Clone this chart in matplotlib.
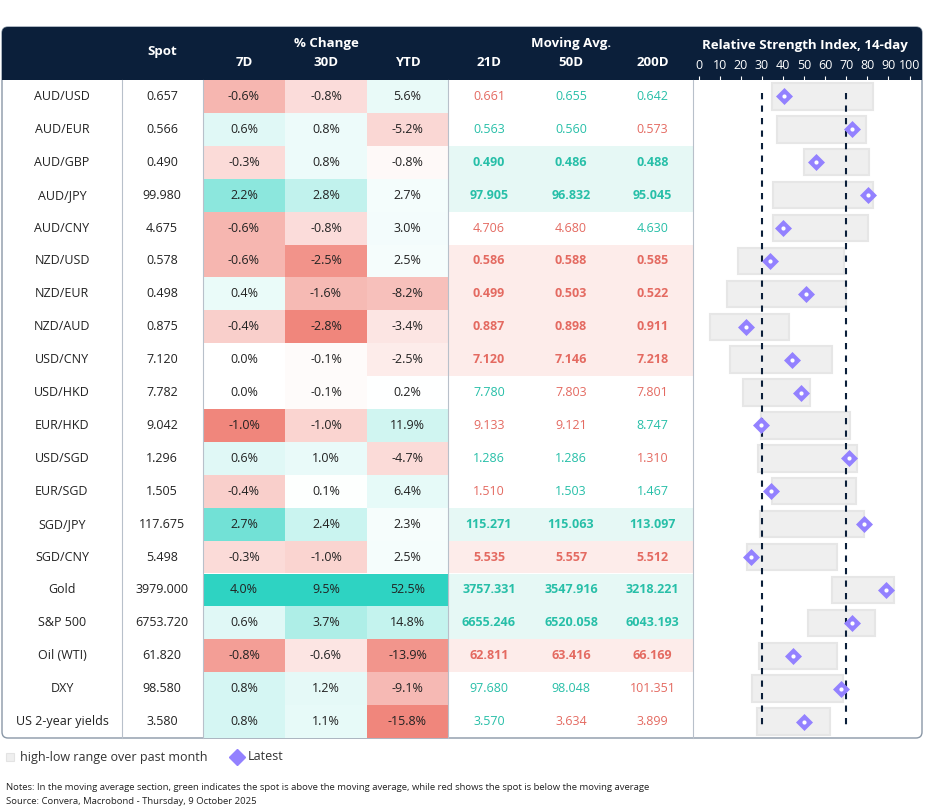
import matplotlib
matplotlib.use("Agg")
import matplotlib.pyplot as plt
from matplotlib.patches import Rectangle, FancyBboxPatch
import numpy as np

plt.rcParams['font.family'] = ['Open Sans', 'DejaVu Sans']

labels = ["AUD/USD","AUD/EUR","AUD/GBP","AUD/JPY","AUD/CNY","NZD/USD","NZD/EUR","NZD/AUD",
          "USD/CNY","USD/HKD","EUR/HKD","USD/SGD","EUR/SGD","SGD/JPY","SGD/CNY","Gold",
          "S&P 500","Oil (WTI)","DXY","US 2-year yields"]
spot = [0.657,0.566,0.490,99.980,4.675,0.578,0.498,0.875,7.120,7.782,9.042,1.296,1.505,117.675,
        5.498,3979.000,6753.720,61.820,98.580,3.580]
chg7d = [-0.6,0.6,-0.3,2.2,-0.6,-0.6,0.4,-0.4,0.0,0.0,-1.0,0.6,-0.4,2.7,-0.3,4.0,0.6,-0.8,0.8,0.8]
chg30d = [-0.8,0.8,0.8,2.8,-0.8,-2.5,-1.6,-2.8,-0.1,-0.1,-1.0,1.0,0.1,2.4,-1.0,9.5,3.7,-0.6,1.2,1.1]
chgytd = [5.6,-5.2,-0.8,2.7,3.0,2.5,-8.2,-3.4,-2.5,0.2,11.9,-4.7,6.4,2.3,2.5,52.5,14.8,-13.9,-9.1,-15.8]
ma21 = [0.661,0.563,0.490,97.905,4.706,0.586,0.499,0.887,7.120,7.780,9.133,1.286,1.510,115.271,
        5.535,3757.331,6655.246,62.811,97.680,3.570]
ma50 = [0.655,0.560,0.486,96.832,4.680,0.588,0.503,0.898,7.146,7.803,9.121,1.286,1.503,115.063,
        5.557,3547.916,6520.058,63.416,98.048,3.634]
ma200 = [0.642,0.573,0.488,95.045,4.630,0.585,0.522,0.911,7.218,7.801,8.747,1.310,1.467,113.097,
         5.512,3218.221,6043.193,66.169,101.351,3.899]
ma21_up = [False,True,True,True,False,False,False,False,False,True,False,True,False,True,False,True,True,False,True,True]
ma50_up = [True,True,True,True,False,False,False,False,False,False,False,True,True,True,False,True,True,False,True,False]
ma200_up = [True,False,True,True,True,False,False,False,False,False,True,False,True,True,False,True,True,False,False,False]
rsi_low = [34.6,37.3,50.0,35.3,35.5,18.9,13.4,5.4,14.9,21.1,29.5,28.2,34.8,29.3,23.0,63.4,51.7,28.7,25.4,27.7]
rsi_high = [82.7,79.4,81.0,82.7,80.5,69.0,69.9,43.0,63.1,52.8,72.0,75.0,74.5,78.4,65.8,92.6,83.8,65.8,68.3,62.2]
rsi_latest = [40.7,72.6,55.5,80.2,40.2,33.7,50.8,22.5,44.2,48.6,29.5,71.2,34.5,78.6,25.0,88.7,72.9,44.6,67.4,49.9]
rsi_ticks = [0,10,20,30,40,50,60,70,80,90,100]

W, H = 926, 811
NAVY = "#0b1f3a"
PURPLE = "#9381ff"
RED = np.array([0xf0,0x86,0x7c])/255
TEAL = np.array([0x2e,0xd3,0xc2])/255
WHITE = np.array([1,1,1.0])
GREEN_T = "#27bfa8"; RED_T = "#e46a61"

fig = plt.figure(figsize=(W/100, H/100), dpi=100)
ax = fig.add_axes([0,0,1,1])
ax.set_xlim(0, W); ax.set_ylim(H, 0); ax.axis('off')

top, rh = 80, 32.9
cols = [2,122,203,285,367,448,530,612,693,922]
n = len(labels)

ax.add_patch(FancyBboxPatch((2,27),920,711,boxstyle="round,pad=0,rounding_size=6",
                            fc="white", ec="#8a97a6", lw=1, zorder=0))
ax.add_patch(FancyBboxPatch((2,27),920,53,boxstyle="round,pad=0,rounding_size=6",
                            fc=NAVY, ec=NAVY, lw=0, zorder=1))
ax.add_patch(Rectangle((2,60),920,20,fc=NAVY,ec=NAVY,lw=0,zorder=1))
hk = dict(color="white", fontsize=9.5, fontweight="bold", ha="center", va="center", zorder=3)
ax.text(162, 52, "Spot", **hk)
ax.text(326, 44, "% Change", **hk)
ax.text(571, 44, "Moving Avg.", **hk)
for c, t in zip(range(2,8), ["7D","30D","YTD","21D","50D","200D"]):
    ax.text((cols[c]+cols[c+1])/2, 62, t, **hk)
ax.text(805, 45, "Relative Strength Index, 14-day", **hk)

def cmix(v, vmin, vmax):
    if v < 0:
        c = WHITE + (RED-WHITE)*(v/vmin)
    elif v > 0:
        c = WHITE + (TEAL-WHITE)*(v/vmax)
    else:
        c = WHITE
    return c

for ci, arr in zip([2,3,4],[chg7d,chg30d,chgytd]):
    vmin, vmax = min(arr), max(arr)
    for i, v in enumerate(arr):
        y0 = top + i*rh
        ax.add_patch(Rectangle((cols[ci], y0), cols[ci+1]-cols[ci], rh, fc=cmix(v,vmin,vmax), ec="none", zorder=1))
        ax.text((cols[ci]+cols[ci+1])/2, y0+rh/2, f"{v:.1f}%", ha="center", va="center", fontsize=9, color="#222222", zorder=3)

for i in range(n):
    y = top + i*rh + rh/2
    ax.text(62, y, labels[i], ha="center", va="center", fontsize=9, color="#222222", zorder=3)
    ax.text(162, y, f"{spot[i]:.3f}", ha="center", va="center", fontsize=9, color="#222222", zorder=3)
    ups = [ma21_up[i], ma50_up[i], ma200_up[i]]
    same = all(ups) or not any(ups)
    if same:
        ax.add_patch(Rectangle((cols[5], top+i*rh), cols[8]-cols[5], rh,
                               fc="#e6f8f5" if ups[0] else "#fdecea", ec="none", zorder=1))
    for k, (arr, up) in enumerate(zip([ma21, ma50, ma200], ups)):
        ax.text((cols[5+k]+cols[6+k])/2, y, f"{arr[i]:.3f}", ha="center", va="center", fontsize=9,
                color=GREEN_T if up else RED_T, fontweight="bold" if same else "normal", zorder=3)

for xc in [122, 203, 448, 693]:
    ax.plot([xc, xc], [80, 738], color="#b8c0ca", lw=0.8, zorder=2)

ax.add_patch(Rectangle((6,753),8,8,fc="#efefef",ec="#e3e3e3",lw=0.8))
ax.text(20, 757, "high-low range over past month", va="center", fontsize=9, color="#333333")
ax.plot([237],[757], marker="D", ms=8, color=PURPLE, mec=PURPLE)
ax.text(248, 757, "Latest", va="center", fontsize=9, color="#333333")
ax.text(6, 787, "Notes: In the moving average section, green indicates the spot is above the moving average, while red shows the spot is below the moving average",
        va="center", fontsize=6.8, color="#222222")
ax.text(6, 801, "Source: Convera, Macrobond - Thursday, 9 October 2025", va="center", fontsize=6.8, color="#222222")

x0p, x1p = 698.5, 909.5
rax = fig.add_axes([x0p/W, 1-738/H, (x1p-x0p)/W, (738-80)/H])
rax.set_xlim(0, 100); rax.set_ylim(n-0.5, -0.5)
rax.patch.set_alpha(0)
for s in rax.spines.values(): s.set_visible(False)
rax.set_yticks([])
rax.xaxis.tick_top()
rax.set_xticks(rsi_ticks)
rax.set_xticklabels([str(t) for t in rsi_ticks], color="white", fontsize=9)
rax.tick_params(axis='x', length=3, color="white", pad=3, width=0.8)
ypos = np.arange(n)
rax.barh(ypos, np.array(rsi_high)-np.array(rsi_low), left=rsi_low, height=0.8,
         color="#efefef", edgecolor="#e6e6e6", lw=1.5, zorder=1)
for xv in [30, 70]:
    rax.plot([xv, xv], [-0.1, n-0.85], color=NAVY, lw=1.5, ls=(0,(3,3)), zorder=2)
rax.scatter(rsi_latest, ypos, marker="D", s=75, color=PURPLE, edgecolor=PURPLE, lw=0, zorder=3)
rax.scatter(rsi_latest, ypos, marker="o", s=9, color="white", lw=0, zorder=4)

fig.savefig("out.png", dpi=100)
